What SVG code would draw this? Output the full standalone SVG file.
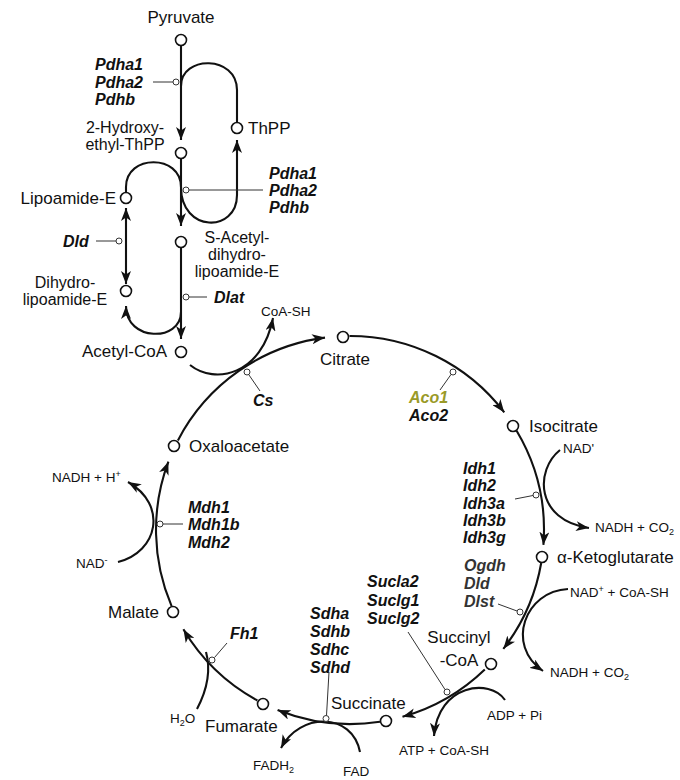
<svg xmlns="http://www.w3.org/2000/svg" width="680" height="780" viewBox="0 0 680 780">
  <style>
    text { font-family: "Liberation Sans", Arial, sans-serif; fill: #111; }
    .met { font-size: 17px; }
    .met2 { font-size: 16px; }
    .gene { font-size: 16px; font-weight: bold; font-style: italic; }
    .grey { fill: #333; }
    .olive { fill: #9a9a28; }
    .sm { font-size: 13.5px; }
    .node { fill: #fff; stroke: #111; stroke-width: 1.6; }
    .dot { fill: #fff; stroke: #333; stroke-width: 1; }
    .lead { fill: none; stroke: #333; stroke-width: 1; }
    .rx { fill: none; stroke: #111; stroke-width: 2.1; }
    .arr { marker-end: url(#ah); }
    .both { marker-start: url(#ah); marker-end: url(#ah); }
  </style>
  <defs>
    <marker id="ah" viewBox="0 0 13 10" refX="13" refY="5" markerWidth="13" markerHeight="10" markerUnits="userSpaceOnUse" orient="auto-start-reverse">
      <path d="M0,0 L13,5 L0,10 L3.5,5 z" fill="#111"/>
    </marker>
  </defs>

  <rect width="680" height="780" fill="#fff"/>

  <!-- reaction curves -->
  <g id="connectors">
    <!-- pyruvate dehydrogenase steps -->
    <path class="rx arr" d="M181,46 L181,140"/>
    <path class="rx" d="M181,86 C181,55 237,55 237,90 L237,122.5"/>
    <path class="rx arr" d="M181,187 C181,233 237,233 237,195 L237,140"/>
    <path class="rx arr" d="M181,158.5 L181,226"/>
    <path class="rx" d="M181,187 C181,154 126,154 126,187 L126,192.5"/>
    <path class="rx both" d="M126,208 L126,284"/>
    <path class="rx arr" d="M181,247.5 L181,339"/>
    <path class="rx arr" d="M181,312 C181,342 126,342 126,306"/>

    <!-- citric acid cycle -->
    <path class="rx arr" d="M177.9,440.4 A194,194 0 0 1 325,337.6"/>
    <path class="rx arr" d="M190,365 C215,385 262,375 273,318"/>
    <path class="rx arr" d="M349.5,336 A194,194 0 0 1 504.3,412.4"/>
    <path class="rx arr" d="M516.6,430.7 A194,194 0 0 1 543.4,544.9"/>
    <path class="rx arr" d="M560,450 C535,470 535,520 589,528"/>
    <path class="rx arr" d="M541.2,563 A194,194 0 0 1 503.3,648.9"/>
    <path class="rx arr" d="M568,589 C525,591 505,645 543,671"/>
    <path class="rx arr" d="M484.8,669.5 A194,194 0 0 1 402.5,716.8"/>
    <path class="rx arr" d="M505,700 C490,678 438,684 434,736"/>
    <path class="rx arr" d="M380,721.7 A194,194 0 0 1 277.6,710"/>
    <path class="rx arr" d="M360,752 C352,712 300,712 281,748"/>
    <path class="rx arr" d="M257.4,700.5 A194,194 0 0 1 183.4,629.3"/>
    <path class="rx" d="M197,709 C207,690 211,670 206,652"/>
    <path class="rx arr" d="M171.6,606.1 A194,194 0 0 1 168.4,461.7"/>
    <path class="rx arr" d="M118,562 C158,552 168,505 128,482"/>
  </g>

  <!-- metabolites -->
  <g id="pyruvate">
    <circle class="node" cx="181" cy="40" r="5.5"/>
    <text class="met" x="181" y="23" text-anchor="middle">Pyruvate</text>
  </g>
  <g id="hydroxyethyl-thpp">
    <circle class="node" cx="181" cy="153" r="5.5"/>
    <text class="met2" text-anchor="middle"><tspan x="125" y="133">2-Hydroxy-</tspan><tspan x="125" dy="17">ethyl-ThPP</tspan></text>
  </g>
  <g id="thpp">
    <circle class="node" cx="237" cy="128" r="5.5"/>
    <text class="met" x="248" y="134">ThPP</text>
  </g>
  <g id="lipoamide">
    <circle class="node" cx="126" cy="198" r="5.5"/>
    <text class="met" x="116" y="204" text-anchor="end">Lipoamide-E</text>
  </g>
  <g id="s-acetyl-dihydrolipoamide">
    <circle class="node" cx="181" cy="242" r="5.5"/>
    <text class="met2" text-anchor="middle"><tspan x="237" y="243">S-Acetyl-</tspan><tspan x="237" dy="17">dihydro-</tspan><tspan x="237" dy="17">lipoamide-E</tspan></text>
  </g>
  <g id="dihydrolipoamide">
    <circle class="node" cx="126" cy="291" r="5.5"/>
    <text class="met2" text-anchor="middle"><tspan x="65" y="288">Dihydro-</tspan><tspan x="65" dy="17">lipoamide-E</tspan></text>
  </g>
  <g id="acetyl-coa">
    <circle class="node" cx="181" cy="352" r="5.5"/>
    <text class="met" x="167" y="357" text-anchor="end">Acetyl-CoA</text>
  </g>
  <g id="citrate">
    <circle class="node" cx="343" cy="337" r="5.5"/>
    <text class="met" x="345" y="365" text-anchor="middle">Citrate</text>
  </g>
  <g id="isocitrate">
    <circle class="node" cx="513" cy="426" r="5.5"/>
    <text class="met" x="529" y="432">Isocitrate</text>
  </g>
  <g id="alpha-ketoglutarate">
    <circle class="node" cx="542" cy="557" r="5.5"/>
    <text class="met" x="557" y="563">α-Ketoglutarate</text>
  </g>
  <g id="succinyl-coa">
    <circle class="node" cx="491" cy="664" r="5.5"/>
    <text class="met" text-anchor="middle"><tspan x="459" y="643">Succinyl</tspan><tspan x="459" dy="23">-CoA</tspan></text>
  </g>
  <g id="succinate">
    <circle class="node" cx="386" cy="721" r="5.5"/>
    <text class="met" x="331" y="709">Succinate</text>
  </g>
  <g id="fumarate">
    <circle class="node" cx="263" cy="704" r="5.5"/>
    <text class="met" x="205" y="732">Fumarate</text>
  </g>
  <g id="malate">
    <circle class="node" cx="173" cy="612" r="5.5"/>
    <text class="met" x="159" y="618" text-anchor="end">Malate</text>
  </g>
  <g id="oxaloacetate">
    <circle class="node" cx="174" cy="446" r="5.5"/>
    <text class="met" x="189" y="452">Oxaloacetate</text>
  </g>

  <!-- cofactors -->
  <g id="cofactors">
    <text class="sm" x="261" y="316">CoA-SH</text>
    <text class="sm" x="563" y="453">NAD'</text>
    <text class="sm" x="595" y="532">NADH + CO<tspan font-size="9" dy="3">2</tspan></text>
    <text class="sm" x="570" y="597">NAD<tspan font-size="9" dy="-5">+</tspan><tspan dy="5"> + CoA-SH</tspan></text>
    <text class="sm" x="550" y="677">NADH + CO<tspan font-size="9" dy="3">2</tspan></text>
    <text class="sm" x="487" y="720">ADP + Pi</text>
    <text class="sm" x="399" y="755">ATP + CoA-SH</text>
    <text class="sm" x="343" y="776">FAD</text>
    <text class="sm" x="253" y="770">FADH<tspan font-size="9" dy="3">2</tspan></text>
    <text class="sm" x="170" y="723">H<tspan font-size="9" dy="3">2</tspan><tspan dy="-3">O</tspan></text>
    <text class="sm" x="76" y="568">NAD<tspan font-size="9" dy="-5">-</tspan></text>
    <text class="sm" x="52" y="482">NADH + H<tspan font-size="9" dy="-5">+</tspan></text>
  </g>

  <!-- enzymes -->
  <g id="enzyme-pdh-1">
    <line class="lead" x1="153" y1="82" x2="173" y2="82"/>
    <circle class="dot" cx="176" cy="82" r="3"/>
    <text class="gene"><tspan x="95" y="70">Pdha1</tspan><tspan x="95" dy="17.5">Pdha2</tspan><tspan x="95" dy="17.5">Pdhb</tspan></text>
  </g>
  <g id="enzyme-pdh-2">
    <line class="lead" x1="189" y1="190" x2="263" y2="190"/>
    <circle class="dot" cx="186" cy="190" r="3"/>
    <text class="gene"><tspan x="269" y="179">Pdha1</tspan><tspan x="269" dy="17.2">Pdha2</tspan><tspan x="269" dy="17.2">Pdhb</tspan></text>
  </g>
  <g id="enzyme-dld">
    <line class="lead" x1="96" y1="241" x2="116" y2="241"/>
    <circle class="dot" cx="119" cy="241" r="3"/>
    <text class="gene" x="63" y="247">Dld</text>
  </g>
  <g id="enzyme-dlat">
    <line class="lead" x1="189" y1="297" x2="207" y2="297"/>
    <circle class="dot" cx="186" cy="297" r="3"/>
    <text class="gene" x="214" y="303">Dlat</text>
  </g>
  <g id="enzyme-cs">
    <line class="lead" x1="249" y1="375" x2="260" y2="391"/>
    <circle class="dot" cx="247" cy="372" r="3"/>
    <text class="gene" x="253" y="406">Cs</text>
  </g>
  <g id="enzyme-aco">
    <line class="lead" x1="451" y1="374.5" x2="440" y2="390"/>
    <circle class="dot" cx="453" cy="372" r="3"/>
    <text class="gene"><tspan class="olive" x="409" y="403">Aco1</tspan><tspan x="409" dy="18">Aco2</tspan></text>
  </g>
  <g id="enzyme-idh">
    <line class="lead" x1="515" y1="499" x2="533" y2="495.5"/>
    <circle class="dot" cx="536" cy="495" r="3"/>
    <text class="gene"><tspan x="463" y="474">Idh1</tspan><tspan x="463" dy="17.3">Idh2</tspan><tspan x="463" dy="17.3">Idh3a</tspan><tspan x="463" dy="17.3">Idh3b</tspan><tspan x="463" dy="17.3">Idh3g</tspan></text>
  </g>
  <g id="enzyme-ogdh">
    <line class="lead" x1="498" y1="604" x2="517" y2="611"/>
    <circle class="dot" cx="520" cy="612" r="3"/>
    <text class="gene grey"><tspan x="464" y="571">Ogdh</tspan><tspan x="464" dy="18">Dld</tspan><tspan x="464" dy="18">Dlst</tspan></text>
  </g>
  <g id="enzyme-succinyl-coa-synthetase">
    <line class="lead" x1="408" y1="632" x2="445" y2="689.5"/>
    <circle class="dot" cx="447" cy="692" r="3"/>
    <text class="gene"><tspan x="367" y="587">Sucla2</tspan><tspan x="367" dy="18.5">Suclg1</tspan><tspan x="367" dy="18.5">Suclg2</tspan></text>
  </g>
  <g id="enzyme-sdh">
    <line class="lead" x1="329" y1="672" x2="326.5" y2="715.5"/>
    <circle class="dot" cx="326" cy="718.5" r="3"/>
    <text class="gene"><tspan x="310" y="619">Sdha</tspan><tspan x="310" dy="18">Sdhb</tspan><tspan x="310" dy="18">Sdhc</tspan><tspan x="310" dy="18">Sdhd</tspan></text>
  </g>
  <g id="enzyme-fh">
    <line class="lead" x1="214.5" y1="657.5" x2="227" y2="643"/>
    <circle class="dot" cx="212" cy="660" r="3"/>
    <text class="gene" x="230" y="639">Fh1</text>
  </g>
  <g id="enzyme-mdh">
    <line class="lead" x1="163" y1="524" x2="183" y2="524"/>
    <circle class="dot" cx="160" cy="524" r="3"/>
    <text class="gene"><tspan x="188" y="513">Mdh1</tspan><tspan x="188" dy="17">Mdh1b</tspan><tspan x="188" dy="17.5">Mdh2</tspan></text>
  </g>
</svg>
